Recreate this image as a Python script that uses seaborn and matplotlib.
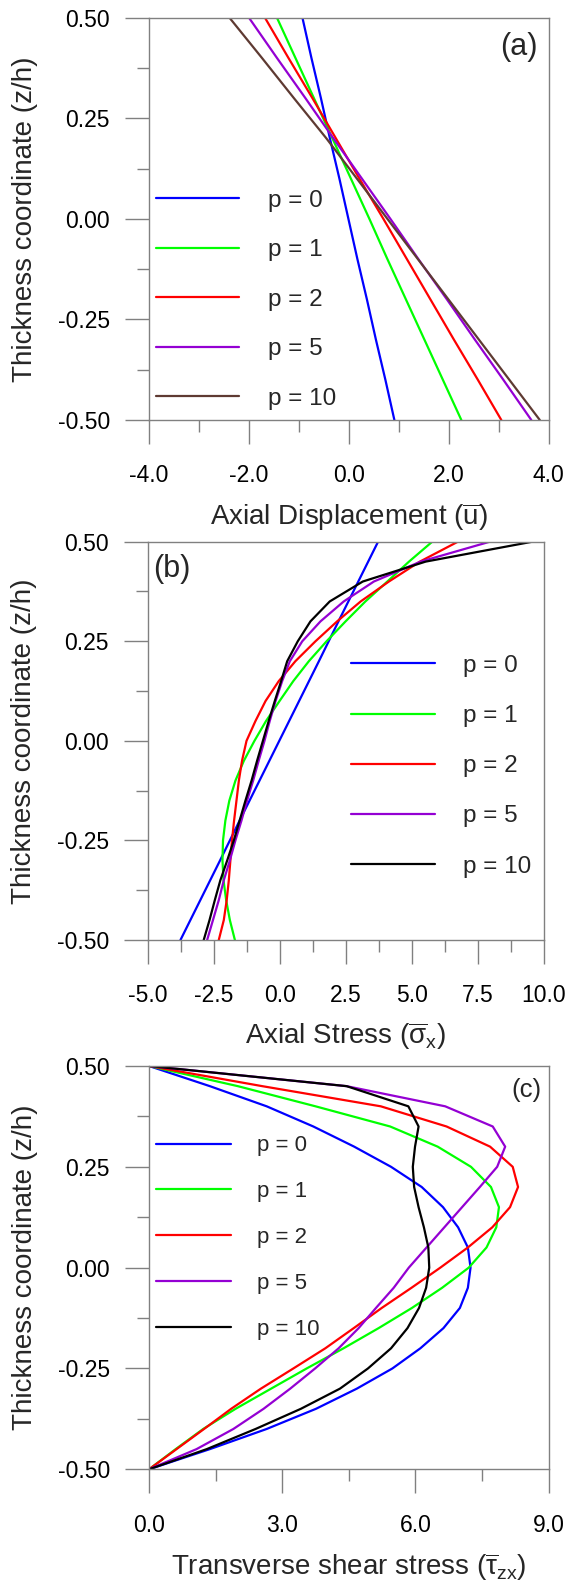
import numpy as np
import pandas as pd
import matplotlib
matplotlib.use("Agg")
import matplotlib.pyplot as plt
import seaborn as sns
from matplotlib.ticker import MultipleLocator, FormatStrFormatter

p_labels = ["p = 0", "p = 1", "p = 2", "p = 5", "p = 10"]

# (a) axial displacement, z/h from 0.5 down to -0.5 (step 0.1)
z_a = [0.5, 0.4, 0.3, 0.2, 0.1, 0.0, -0.1, -0.2, -0.3, -0.4, -0.5]
u_p0 = [-0.93, -0.75, -0.56, -0.38, -0.19, -0.01, 0.17, 0.36, 0.54, 0.73, 0.91]
u_p1 = [-1.44, -1.07, -0.70, -0.33, 0.04, 0.41, 0.77, 1.14, 1.51, 1.88, 2.25]
u_p2 = [-1.68, -1.21, -0.73, -0.26, 0.21, 0.69, 1.16, 1.63, 2.10, 2.58, 3.05]
u_p5 = [-2.00, -1.44, -0.87, -0.31, 0.26, 0.83, 1.39, 1.96, 2.52, 3.09, 3.65]
u_p10 = [-2.39, -1.74, -1.10, -0.45, 0.16, 0.77, 1.38, 1.99, 2.60, 3.21, 3.82]

# (b) axial stress
z_b0 = [0.5, 0.4, 0.3, 0.2, 0.1, 0.0, -0.1, -0.2, -0.3, -0.4, -0.5]
s_p0 = [3.72, 2.97, 2.22, 1.48, 0.73, -0.02, -0.77, -1.52, -2.26, -3.01, -3.76]
z_b = [0.5, 0.45, 0.4, 0.35, 0.3, 0.25, 0.2, 0.15, 0.1, 0.05, 0.0,
       -0.05, -0.1, -0.15, -0.2, -0.25, -0.3, -0.35, -0.4, -0.45, -0.5]
s_p1 = [5.77, 4.89, 4.07, 3.24, 2.49, 1.77, 1.10, 0.51, -0.01, -0.52, -0.96,
        -1.36, -1.68, -1.91, -2.06, -2.15, -2.17, -2.13, -2.03, -1.89, -1.70]
s_p2 = [6.74, 5.30, 4.13, 3.06, 2.17, 1.35, 0.59, -0.04, -0.54, -0.92, -1.26,
        -1.43, -1.55, -1.64, -1.73, -1.81, -1.87, -1.93, -2.01, -2.12, -2.31]
s_p5 = [7.95, 5.33, 3.56, 2.42, 1.54, 0.85, 0.38, 0.09, -0.16, -0.38, -0.58,
        -0.80, -1.01, -1.24, -1.45, -1.68, -1.89, -2.12, -2.31, -2.53, -2.75]
s_p10 = [9.56, 5.52, 3.14, 1.89, 1.16, 0.68, 0.28, 0.05, -0.19, -0.42, -0.64,
         -0.86, -1.07, -1.30, -1.52, -1.74, -1.99, -2.25, -2.46, -2.66, -2.88]

# (c) transverse shear stress
z_c = z_b
t_p0 = [0.0, 1.37, 2.65, 3.70, 4.62, 5.45, 6.14, 6.62, 6.96, 7.18, 7.24,
        7.18, 7.00, 6.63, 6.11, 5.48, 4.68, 3.76, 2.65, 1.37, 0.0]
t_p1 = [0.0, 2.00, 3.75, 5.43, 6.50, 7.25, 7.70, 7.88, 7.82, 7.60, 7.20,
        6.60, 5.92, 5.17, 4.38, 3.55, 2.75, 1.95, 1.22, 0.60, 0.0]
t_p2 = [0.0, 2.55, 5.22, 6.70, 7.68, 8.19, 8.31, 8.13, 7.73, 7.18, 6.56,
        5.91, 5.24, 4.61, 3.97, 3.25, 2.52, 1.85, 1.24, 0.62, 0.0]
t_p5 = [0.0, 4.45, 6.67, 7.74, 8.02, 7.84, 7.45, 7.05, 6.65, 6.25, 5.85,
        5.51, 5.11, 4.72, 4.27, 3.74, 3.18, 2.58, 1.90, 1.07, 0.0]
t_p10 = [0.0, 4.45, 5.84, 6.07, 5.99, 5.94, 5.97, 6.07, 6.19, 6.29, 6.31,
         6.24, 6.08, 5.82, 5.45, 4.93, 4.30, 3.42, 2.40, 1.30, 0.0]

colors_a = ["#0000ff", "#00ff00", "#ff0000", "#9400d3", "#5e3a32"]
colors_bc = ["#0000ff", "#00ff00", "#ff0000", "#9400d3", "#000000"]

sns.set_style("ticks")
plt.rcParams["font.family"] = ["Liberation Sans", "DejaVu Sans"]
plt.rcParams["mathtext.fontset"] = "custom"
plt.rcParams["mathtext.rm"] = "Liberation Sans"
plt.rcParams["mathtext.it"] = "Liberation Sans:italic"
plt.rcParams["axes.unicode_minus"] = False

GRAY = "#808080"


def long_frame(zs, values):
    rows = []
    for lab, (z, v) in zip(p_labels, zip(zs, values)):
        rows.append(pd.DataFrame({"value": v, "z": z, "p": lab}))
    return pd.concat(rows, ignore_index=True)


def draw_panel(ax, df, colors, xlim, xmaj, xmin, xlabel, tag, tag_xy, tag_size,
               leg_xy, leg_size, handlelen, textpad, spacing):
    sns.lineplot(data=df, x="value", y="z", hue="p", hue_order=p_labels,
                 palette=colors, sort=False, estimator=None, linewidth=1.6,
                 legend=False, ax=ax)
    ax.set_xlim(*xlim)
    ax.set_ylim(-0.5, 0.5)
    ax.xaxis.set_major_locator(MultipleLocator(xmaj))
    ax.xaxis.set_minor_locator(MultipleLocator(xmin))
    ax.xaxis.set_major_formatter(FormatStrFormatter("%.1f"))
    ax.yaxis.set_major_locator(MultipleLocator(0.25))
    ax.yaxis.set_minor_locator(MultipleLocator(0.125))
    ax.yaxis.set_major_formatter(FormatStrFormatter("%.2f"))
    for s in ax.spines.values():
        s.set_color(GRAY)
        s.set_linewidth(1.0)
    ax.tick_params(which="both", direction="out", color=GRAY, width=1.0,
                   top=False, right=False, labelsize=16.5, labelcolor="black")
    ax.tick_params(which="major", length=17.5)
    ax.tick_params(which="minor", length=8.8)
    ax.tick_params(axis="x", which="major", pad=14.5)
    ax.tick_params(axis="y", which="major", pad=10.5)
    ax.set_ylabel("Thickness coordinate (z/h)", fontsize=20)
    ax.set_xlabel(xlabel, fontsize=20)
    ax.yaxis.set_label_coords(-0.2786, 0.5)
    ax.xaxis.set_label_coords(0.5, -0.202)
    ax.text(tag_xy[0], tag_xy[1], tag, transform=ax.transAxes,
            ha="center", va="center", fontsize=tag_size)
    handles = ax.get_lines()[:5]
    ax.legend(handles, p_labels, loc="upper left", bbox_to_anchor=leg_xy,
              frameon=False, fontsize=leg_size, handlelength=handlelen,
              handletextpad=textpad, labelspacing=spacing, borderpad=0,
              borderaxespad=0)


fig = plt.figure(figsize=(5.65, 15.83), dpi=100)
ax_a = fig.add_axes([0.26372, 0.73468, 0.70761, 0.25414])
ax_b = fig.add_axes([0.26142, 0.40619, 0.70142, 0.25161])
ax_c = fig.add_axes([0.26372, 0.07183, 0.70743, 0.25477])

df_a = long_frame([z_a] * 5, [u_p0, u_p1, u_p2, u_p5, u_p10])
df_b = long_frame([z_b0, z_b, z_b, z_b, z_b], [s_p0, s_p1, s_p2, s_p5, s_p10])
df_c = long_frame([z_c] * 5, [t_p0, t_p1, t_p2, t_p5, t_p10])

draw_panel(ax_a, df_a, colors_a, (-4, 4), 2.0, 1.0,
           r"Axial Displacement ($\overline{\mathrm{u}}$)",
           "(a)", (0.924, 0.926), 22, (0.0168, 0.5725), 17.5, 3.44, 1.19, 1.13)
draw_panel(ax_b, df_b, colors_bc, (-5, 10), 2.5, 1.25,
           r"Axial Stress ($\overline{\mathrm{σ}}_{\mathrm{x}}$)",
           "(b)", (0.061, 0.931), 22, (0.513, 0.716), 17.5, 3.46, 1.16, 1.16)
draw_panel(ax_c, df_c, colors_bc, (0, 9), 3.0, 1.5,
           r"Transverse shear stress ($\overline{\mathrm{τ}}_{\mathrm{zx}}$)",
           "(c)", (0.945, 0.940), 18.5, (0.0175, 0.828), 16, 3.38, 1.16, 1.12)

fig.savefig("out.png", dpi=100)
